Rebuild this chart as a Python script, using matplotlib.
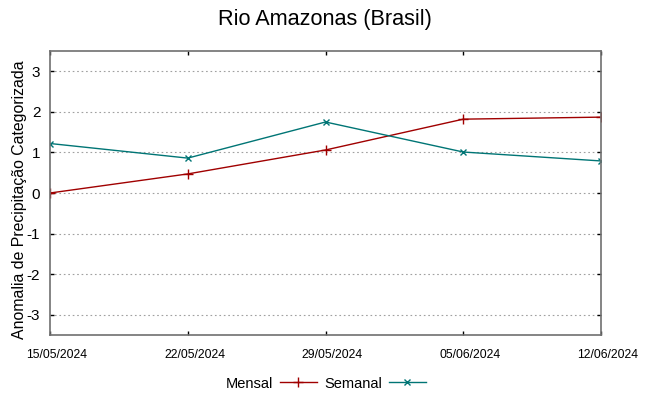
import matplotlib
matplotlib.use("Agg")
import matplotlib.pyplot as plt
import matplotlib.transforms as mtransforms

plt.rcParams['font.family'] = ['Liberation Sans', 'DejaVu Sans']

dates = ["15/05/2024", "22/05/2024", "29/05/2024", "05/06/2024", "12/06/2024"]
mensal = [0.0, 0.47, 1.06, 1.82, 1.87]
semanal = [1.22, 0.86, 1.75, 1.01, 0.79]
yticks = [-3, -2, -1, 0, 1, 2, 3]

fig = plt.figure(figsize=(6.49, 3.96), dpi=100)
ax = fig.add_axes([50/649, 61/396, 551/649, 284/396])
x = list(range(len(dates)))
ax.plot(x, mensal, color='#a00000', lw=1.0, marker='+', ms=7, mew=1.0, label='Mensal')
ax.plot(x, semanal, color='#007575', lw=1.0, marker='x', ms=5, mew=1.0, label='Semanal')

ax.set_xlim(0, len(dates) - 1)
ax.set_ylim(-3.5, 3.5)
ax.set_xticks(x)
ax.set_xticklabels(dates, fontsize=8.8)
ax.set_yticks(yticks)
ax.set_yticklabels([str(v) for v in yticks], fontsize=11)
ax.grid(True, axis='y', color='#a0a0a0', linestyle=(0, (1.5, 2.5)), lw=0.8)
ax.tick_params(direction='in', length=3, width=1, color='black', top=True, right=True, pad=7)
ax.tick_params(axis='x', pad=10)
offset = mtransforms.ScaledTranslation(7/100, 0, fig.dpi_scale_trans)
for lab in ax.get_xticklabels():
    lab.set_transform(lab.get_transform() + offset)
for s in ax.spines.values():
    s.set_color('#707070')
    s.set_linewidth(1.2)

ax.set_ylabel('Anomalia de Precipitação Categorizada', fontsize=11.4)
ax.yaxis.set_label_coords(-0.042, 0.478)
fig.text(0.5, 0.952, 'Rio Amazonas (Brasil)', ha='center', va='center', fontsize=15.6)

leg = ax.legend(loc='upper center', bbox_to_anchor=(0.5, -0.1), ncol=2, frameon=False,
                markerfirst=False, fontsize=10.5, handlelength=2.5, columnspacing=0.5, handletextpad=0.5)

fig.savefig('out.png', dpi=100)
